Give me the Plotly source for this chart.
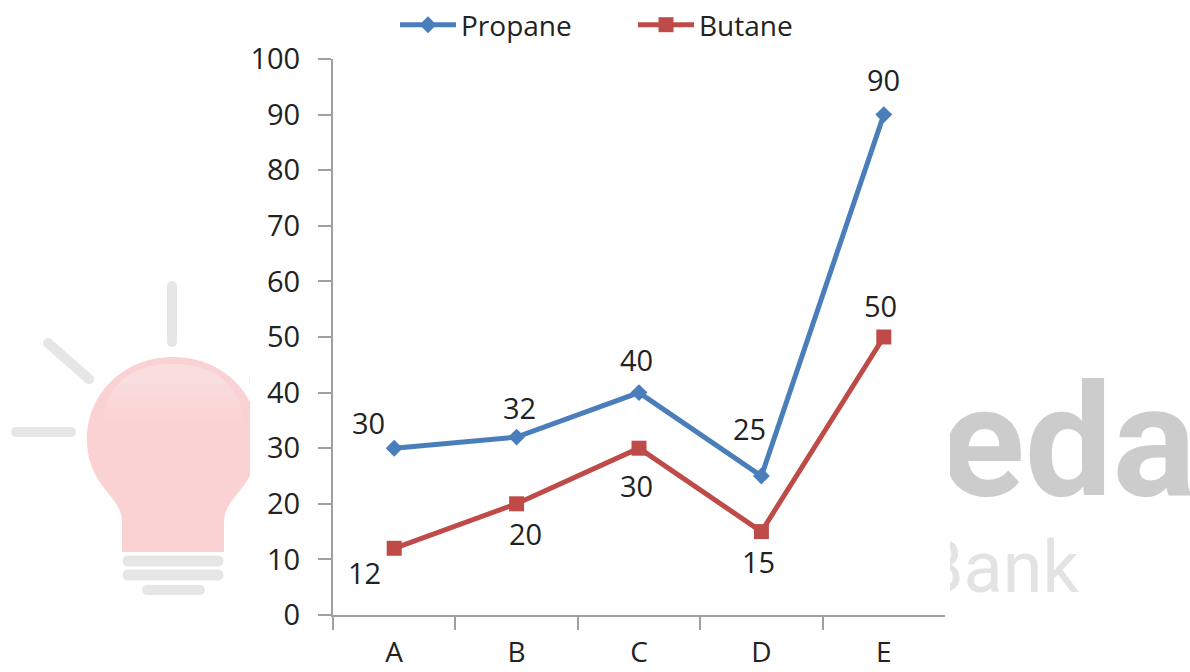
import plotly.graph_objects as go

categories = ["A", "B", "C", "D", "E"]
propane = [30, 32, 40, 25, 90]
butane = [12, 20, 30, 15, 50]
y_ticks = list(range(0, 101, 10))
propane_shift = [(-26, 26), (3, 30), (-3, 33), (-12, 48), (0, 35)]
butane_shift = [(-30, -24), (9, -30), (-3, -37), (-3, -30), (-3, 32)]

W, H = 1190, 672
FONT = "Open Sans"
TEXT = "#222222"
AXIS = "#a0a0a0"
BLUE = "#4a7ebb"
RED = "#be4b48"
PINK = "#fbd2d4"
GREY = "#e6e6e6"


def px(x, y):
    return f"{x / W:.5f} {1 - y / H:.5f}"


def path(cmds):
    out = []
    for c in cmds:
        if c == "Z":
            out.append("Z")
        else:
            op, pts = c[0], c[1:]
            out.append(op + " " + " ".join(px(*p) for p in pts))
    return " ".join(out)


def shape(cmds, color):
    return dict(type="path", xref="paper", yref="paper", layer="below",
                path=path(cmds), fillcolor=color, line=dict(width=0))


def capsule(x0, y0, x1, y1, w, color=GREY):
    dx, dy = x1 - x0, y1 - y0
    n = (dx * dx + dy * dy) ** 0.5
    ux, uy = dx / n, dy / n
    nx, ny = -uy * w / 2, ux * w / 2
    e = w * 0.66
    return shape([
        ("M", (x0 + nx, y0 + ny)), ("L", (x1 + nx, y1 + ny)),
        ("C", (x1 + nx + ux * e, y1 + ny + uy * e), (x1 - nx + ux * e, y1 - ny + uy * e), (x1 - nx, y1 - ny)),
        ("L", (x0 - nx, y0 - ny)),
        ("C", (x0 - nx - ux * e, y0 - ny - uy * e), (x0 + nx - ux * e, y0 + ny - uy * e), (x0 + nx, y0 + ny)),
        "Z"], color)


bulb = shape([
    ("M", (122, 552)), ("L", (122, 522)),
    ("C", (122, 505), (108, 495), (99, 481)),
    ("C", (91, 468), (87, 455), (87, 440)),
    ("C", (87, 392), (125, 357), (173, 357)),
    ("C", (221, 357), (259, 392), (259, 440)),
    ("C", (259, 455), (255, 468), (247, 481)),
    ("C", (238, 495), (224, 505), (224, 522)),
    ("L", (224, 552)), "Z"], PINK)

shapes = [
    capsule(172, 286, 172, 342, 10),
    capsule(48, 343, 89, 379, 10),
    capsule(16, 432, 71, 432, 10),
    capsule(254, 379, 296, 343, 10),
    bulb,
    shape([("M", (103, 420)), ("C", (105, 388), (135, 364), (173, 364)),
           ("C", (211, 364), (241, 388), (243, 420)), "Z"], "#fbd4d6"),
    shape([("M", (105, 408)), ("C", (110, 384), (137, 364), (173, 364)),
           ("C", (209, 364), (236, 384), (241, 408)), "Z"], "#fad7d9"),
    shape([("M", (110, 396)), ("C", (118, 378), (142, 364), (173, 364)),
           ("C", (204, 364), (228, 378), (236, 396)), "Z"], "#f9dadc"),
    shape([("M", (118, 384)), ("C", (128, 372), (150, 364), (173, 364)),
           ("C", (196, 364), (218, 372), (228, 384)), "Z"], "#f9dee0"),
    capsule(128, 561, 218, 561, 11),
    capsule(128, 575, 218, 575, 11),
    capsule(147, 590, 200, 590, 10),
    dict(type="rect", xref="paper", yref="paper", layer="below",
         x0=250 / W, x1=950 / W, y0=0, y1=1, fillcolor="white", line=dict(width=0)),
]

fig = go.Figure()
fig.add_trace(go.Scatter(x=categories, y=propane, name="Propane", mode="lines+markers",
                         line=dict(color=BLUE, width=5),
                         marker=dict(symbol="diamond", size=13, color=BLUE)))
fig.add_trace(go.Scatter(x=categories, y=butane, name="Butane", mode="lines+markers",
                         line=dict(color=RED, width=5),
                         marker=dict(symbol="square", size=15, color=RED)))

# Watermark text, clipped at the chart's right edge by its own hidden subplot
fig.add_trace(go.Scatter(x=[1196], y=[534], text=["eda"], mode="text", textposition="top left",
                         textfont=dict(family="Roboto", size=156, color="#cccccc", weight=700),
                         xaxis="x2", yaxis="y2", showlegend=False, hoverinfo="skip"))
fig.add_trace(go.Scatter(x=[1079], y=[610], text=["Bank"], mode="text", textposition="top left",
                         textfont=dict(family="Roboto", size=72, color="#e3e3e3"),
                         xaxis="x2", yaxis="y2", showlegend=False, hoverinfo="skip"))

annotations = []
for vals, shifts in ((propane, propane_shift), (butane, butane_shift)):
    for c, v, (dx, dy) in zip(categories, vals, shifts):
        annotations.append(dict(x=c, y=v, xref="x", yref="y", text=str(v), showarrow=False,
                                xshift=dx, yshift=dy, font=dict(family=FONT, size=29, color=TEXT)))

fig.update_layout(
    width=W, height=H, margin=dict(l=0, r=0, t=0, b=0),
    paper_bgcolor="white", plot_bgcolor="rgba(0,0,0,0)",
    shapes=shapes, annotations=annotations,
    font=dict(family=FONT, size=29, color=TEXT),
    legend=dict(orientation="h", x=395 / W, xanchor="left", y=1, yanchor="top",
                font=dict(family=FONT, size=28, color=TEXT), bgcolor="rgba(0,0,0,0)",
                entrywidth=167, entrywidthmode="pixels", itemwidth=56),
    xaxis=dict(domain=[333 / W, 945 / W], range=[-0.5, 4.5], type="category",
               categoryorder="array", categoryarray=categories, tickson="boundaries",
               ticks="outside", ticklen=13, tickwidth=2, tickcolor=AXIS, automargin=False,
               showline=True, linecolor=AXIS, linewidth=2, showgrid=False, zeroline=False,
               anchor="y", ticklabelstandoff=11, tickfont=dict(family=FONT, size=28, color=TEXT)),
    yaxis=dict(domain=[1 - 615 / H, 1 - 59 / H], range=[0, 100], tickvals=y_ticks,
               ticks="outside", ticklen=13, tickwidth=2, tickcolor=AXIS, automargin=False,
               showline=True, linecolor=AXIS, linewidth=2, showgrid=False, zeroline=False,
               anchor="x", ticklabelstandoff=12, tickfont=dict(family=FONT, size=29, color=TEXT)),
    xaxis2=dict(domain=[950 / W, 1], range=[950, 1190], visible=False, anchor="y2", fixedrange=True),
    yaxis2=dict(domain=[0, 1], range=[672, 0], visible=False, anchor="x2", fixedrange=True),
)

fig.write_html("out.html", config=dict(displayModeBar=False),
               post_script="document.body.style.margin='0';document.documentElement.style.overflow='hidden';")
